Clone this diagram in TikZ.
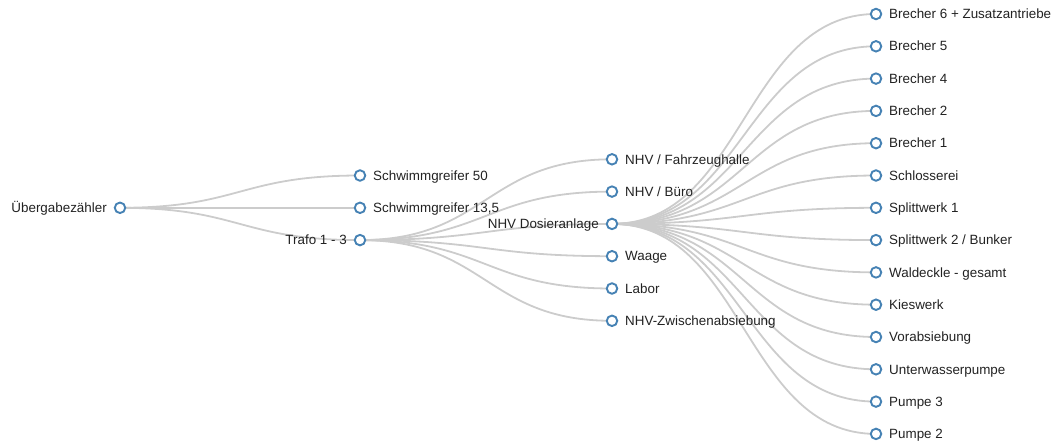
\documentclass[tikz,border=0pt]{standalone}
\usepackage{fontspec}
\setmainfont{Liberation Sans}
\usetikzlibrary{calc,backgrounds}
\definecolor{nodeblue}{HTML}{4682B4}
\definecolor{linkgray}{HTML}{CCCCCC}
\definecolor{txt}{HTML}{222222}
\tikzset{
  dot/.style={circle,draw=nodeblue,fill=white,line width=1.9pt,minimum size=10.5pt,inner sep=0pt},
  link/.style={draw=linkgray,line width=1.8pt},
  lbl/.style={inner sep=0pt,text=txt,font=\fontsize{13.4}{15}\selectfont},
  lblr/.style={lbl,anchor=base west},
  lbll/.style={lbl,anchor=base east}
}
\newcommand\lnk[2]{\draw[link] let \p1=(#1.center), \p2=(#2.center) in (\p1) .. controls ({(\x1+\x2)/2},\y1) and ({(\x1+\x2)/2},\y2) .. (\p2);}
\newcommand\rlab[3]{\node[lblr] (#1) at ($(#2.center)+(13,4.7)$) {#3};}
\newcommand\llab[3]{\node[lbll] (#1) at ($(#2.center)+(-13,4.7)$) {#3};}
\begin{document}
\begin{tikzpicture}[x=1pt,y=-1pt]
\useasboundingbox (0,0) rectangle (1056,444);
% root
\node[dot] (r) at (120,207.8) {};
% level 1
\node[dot] (a1) at (360,175.5) {};
\node[dot] (a2) at (360,207.8) {};
\node[dot] (a3) at (360,240.1) {};
% level 2
\node[dot] (b1) at (612,159.3) {};
\node[dot] (b2) at (612,191.6) {};
\node[dot] (b3) at (612,223.9) {};
\node[dot] (b4) at (612,256.2) {};
\node[dot] (b5) at (612,288.5) {};
\node[dot] (b6) at (612,320.8) {};
% level 3
\node[dot] (c1) at (876,14.0) {};
\node[dot] (c2) at (876,46.3) {};
\node[dot] (c3) at (876,78.6) {};
\node[dot] (c4) at (876,110.9) {};
\node[dot] (c5) at (876,143.2) {};
\node[dot] (c6) at (876,175.5) {};
\node[dot] (c7) at (876,207.8) {};
\node[dot] (c8) at (876,240.1) {};
\node[dot] (c9) at (876,272.4) {};
\node[dot] (c10) at (876,304.7) {};
\node[dot] (c11) at (876,337.0) {};
\node[dot] (c12) at (876,369.3) {};
\node[dot] (c13) at (876,401.6) {};
\node[dot] (c14) at (876,433.9) {};
\begin{scope}[on background layer]
\lnk{r}{a1}\lnk{r}{a2}\lnk{r}{a3}
\lnk{a3}{b1}\lnk{a3}{b2}\lnk{a3}{b3}\lnk{a3}{b4}\lnk{a3}{b5}\lnk{a3}{b6}
\foreach \i in {1,...,14}{\lnk{b3}{c\i}}
\end{scope}
% labels
\llab{tr}{r}{Übergabezähler}
\rlab{ta1}{a1}{Schwimmgreifer 50}
\rlab{ta2}{a2}{Schwimmgreifer 13,5}
\llab{ta3}{a3}{Trafo 1 - 3}
\rlab{tb1}{b1}{NHV / Fahrzeughalle}
\rlab{tb2}{b2}{NHV / Büro}
\llab{tb3}{b3}{NHV Dosieranlage}
\rlab{tb4}{b4}{Waage}
\rlab{tb5}{b5}{Labor}
\rlab{tb6}{b6}{NHV-Zwischenabsiebung}
\rlab{tc1}{c1}{Brecher 6 + Zusatzantriebe}
\rlab{tc2}{c2}{Brecher 5}
\rlab{tc3}{c3}{Brecher 4}
\rlab{tc4}{c4}{Brecher 2}
\rlab{tc5}{c5}{Brecher 1}
\rlab{tc6}{c6}{Schlosserei}
\rlab{tc7}{c7}{Splittwerk 1}
\rlab{tc8}{c8}{Splittwerk 2 / Bunker}
\rlab{tc9}{c9}{Waldeckle - gesamt}
\rlab{tc10}{c10}{Kieswerk}
\rlab{tc11}{c11}{Vorabsiebung}
\rlab{tc12}{c12}{Unterwasserpumpe}
\rlab{tc13}{c13}{Pumpe 3}
\rlab{tc14}{c14}{Pumpe 2}
\end{tikzpicture}
\end{document}
